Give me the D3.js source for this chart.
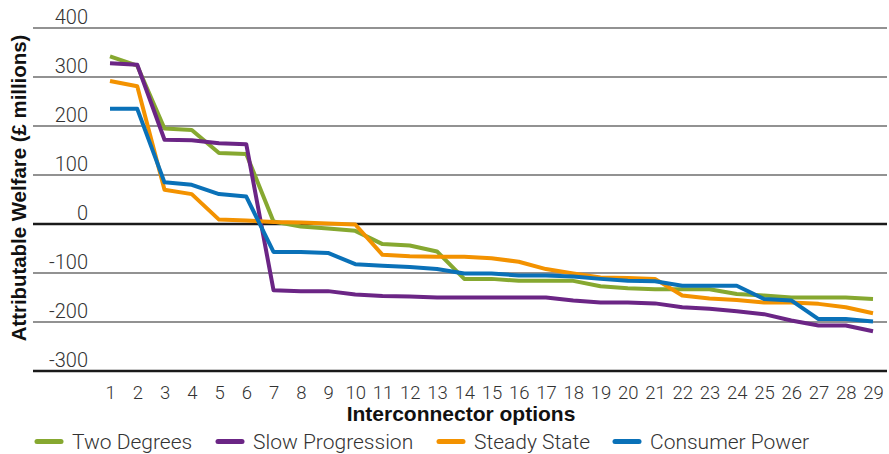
<!DOCTYPE html>
<html>
<head>
<meta charset="utf-8">
<script src="https://cdn.jsdelivr.net/npm/d3@7"></script>
<style>
  html, body { margin: 0; padding: 0; background: #fff; }
  svg { display: block; }
</style>
</head>
<body>
<svg id="chart" width="889" height="454"></svg>
<script>
const categories = ["1","2","3","4","5","6","7","8","9","10","11","12","13","14","15","16","17","18","19","20","21","22","23","24","25","26","27","28","29"];
const yTicks = [400, 300, 200, 100, 0, -100, -200, -300];
const seriesNames = ["Two Degrees", "Slow Progression", "Steady State", "Consumer Power"];
const twoDegrees      = [342, 323, 195, 192, 145, 143, 5, -5, -9, -14, -41, -44, -56, -112, -112, -116, -116, -116, -127, -131, -133, -133, -133, -143, -146, -150, -150, -150, -153];
const slowProgression = [328, 325, 172, 171, 165, 163, -135, -137, -137, -144, -147, -148, -150, -150, -150, -150, -150, -156, -160, -160, -162, -170, -173, -178, -184, -197, -207, -207, -219];
const steadyState     = [292, 281, 70, 61, 9, 7, 4, 3, 1, -1, -63, -66, -67, -67, -70, -77, -92, -101, -109, -110, -112, -146, -152, -155, -160, -160, -163, -170, -182];
const consumerPower   = [235, 235, 85, 80, 61, 56, -57, -57, -59, -82, -85, -88, -92, -101, -101, -105, -105, -107, -112, -116, -117, -126, -126, -126, -153, -156, -194, -194, -199];
const colors = ["#86a830", "#6b2585", "#f39200", "#0a71b8"];

const series = [twoDegrees, slowProgression, steadyState, consumerPower];

const svg = d3.select("#chart");
const lightFont = "Roboto, 'Liberation Sans', Arial, sans-serif";
const boldFont = "'Liberation Sans', Arial, Helvetica, sans-serif";

const gridLeft = 33, gridRight = 887;
const x = d3.scalePoint().domain(categories).range([110, 873]);
const y = d3.scaleLinear().domain([-300, 400]).range([371, 28]);

// gridlines
const grid = svg.append("g");
yTicks.forEach(t => {
  const strong = (t === 0 || t === -300);
  grid.append("line")
    .attr("x1", gridLeft).attr("x2", gridRight)
    .attr("y1", y(t)).attr("y2", y(t))
    .attr("stroke", strong ? "#1a1a1a" : "#6e6e6e")
    .attr("stroke-width", strong ? 2.6 : 1.6);
  grid.append("text")
    .attr("x", 88).attr("y", y(t) - 4)
    .attr("text-anchor", "end")
    .attr("font-family", lightFont).attr("font-weight", 300)
    .attr("font-size", 20).attr("fill", "#333")
    .text(t);
});

// x tick labels
const xAxis = d3.axisBottom(x).tickSize(0).tickPadding(0);
const xg = svg.append("g").attr("transform", "translate(0,386)").call(xAxis);
xg.select(".domain").remove();
xg.selectAll("text")
  .attr("dy", "0.71em")
  .attr("y", 0)
  .attr("font-family", lightFont).attr("font-weight", 300)
  .attr("font-size", 18.5).attr("fill", "#333");

// lines
const line = d3.line().x((d, i) => x(categories[i])).y(d => y(d));
series.forEach((s, k) => {
  svg.append("path")
    .datum(s)
    .attr("fill", "none")
    .attr("stroke", colors[k])
    .attr("stroke-width", 4)
    .attr("stroke-linejoin", "round")
    .attr("d", line);
});

// axis titles
svg.append("text")
  .attr("x", 461).attr("y", 421)
  .attr("text-anchor", "middle")
  .attr("font-family", boldFont).attr("font-weight", "bold")
  .attr("font-size", 21).attr("fill", "#111")
  .text("Interconnector options");

svg.append("text")
  .attr("transform", "translate(26,188) rotate(-90)")
  .attr("text-anchor", "middle")
  .attr("font-family", boldFont).attr("font-weight", "bold")
  .attr("font-size", 20.4).attr("fill", "#111")
  .text("Attributable Welfare (£ millions)");

// legend
const legendSwatchX = [35, 216, 437, 613];
const lg = svg.append("g");
seriesNames.forEach((name, k) => {
  lg.append("line")
    .attr("x1", legendSwatchX[k] + 2).attr("x2", legendSwatchX[k] + 26)
    .attr("y1", 441.5).attr("y2", 441.5)
    .attr("stroke", colors[k]).attr("stroke-width", 5)
    .attr("stroke-linecap", "round");
  lg.append("text")
    .attr("x", legendSwatchX[k] + 37).attr("y", 448.5)
    .attr("font-family", lightFont).attr("font-weight", 300)
    .attr("font-size", 21).attr("fill", "#333")
    .text(name);
});
</script>
</body>
</html>
